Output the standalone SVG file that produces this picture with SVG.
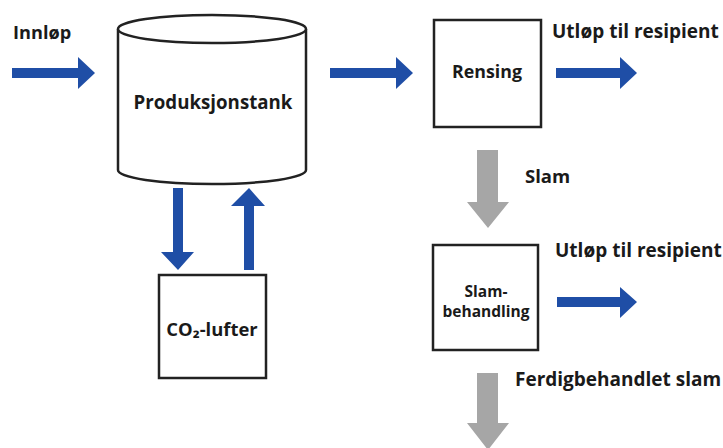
<svg xmlns="http://www.w3.org/2000/svg" width="723" height="448" viewBox="0 0 723 448">
<style>
.box{fill:#fff;stroke:#222;stroke-width:2.5}
.t{font-family:"Open Sans","Liberation Sans",sans-serif;font-weight:bold;fill:#1a1a1a}
.blue{fill:#1f4ea6}
.gray{fill:#a6a6a6}
</style>
<rect width="723" height="448" fill="#fff"/>
<g id="connectors">
<polygon class="blue" points="12,68 78,68 78,57 95,73 78,89 78,78 12,78"/>
<polygon class="blue" points="330,68 396,68 396,57 413,73 396,89 396,78 330,78"/>
<polygon class="blue" points="556,68 620,68 620,57 637,73 620,89 620,78 556,78"/>
<polygon class="blue" points="557,297 620,297 620,287 637,302 620,318 620,307 557,307"/>
<polygon class="blue" points="173,188 183,188 183,252 194,252 178,270 161,252 173,252"/>
<polygon class="blue" points="244,270 254,270 254,206 265,206 249,188 231,206 244,206"/>
<polygon class="gray" points="477,150 498,150 498,202 509,202 488,228 467,202 477,202"/>
<polygon class="gray" points="477,373 498,373 498,423 509,423 488,450 467,423 477,423"/>
</g>
<g id="produksjonstank">
<path class="box" d="M118,29 L118,170 A94,14 0 0 0 306,170 L306,29"/>
<ellipse class="box" cx="212" cy="29" rx="94" ry="14"/>
<text class="t" x="213" y="109" font-size="18.7" text-anchor="middle">Produksjonstank</text>
</g>
<g id="innlop"><text class="t" x="13" y="39" font-size="18.2">Innløp</text></g>
<g id="rensing">
<rect class="box" x="434" y="20" width="107" height="107"/>
<text class="t" x="487" y="78" font-size="17.8" text-anchor="middle">Rensing</text>
</g>
<g id="utlop1"><text class="t" x="552" y="38" font-size="19">Utløp til resipient</text></g>
<g id="slam"><text class="t" x="525" y="183" font-size="18.5">Slam</text></g>
<g id="slambehandling">
<rect class="box" x="433" y="245" width="105" height="105"/>
<text class="t" x="486" y="297" font-size="15.5" text-anchor="middle">Slam-</text>
<text class="t" x="486" y="317" font-size="15.5" text-anchor="middle">behandling</text>
</g>
<g id="utlop2"><text class="t" x="555" y="257" font-size="19">Utløp til resipient</text></g>
<g id="co2lufter">
<rect class="box" x="159" y="275" width="107" height="103"/>
<text class="t" x="212" y="336" font-size="18.4" text-anchor="middle">CO₂-lufter</text>
</g>
<g id="ferdig"><text class="t" x="515" y="386" font-size="19">Ferdigbehandlet slam</text></g>
</svg>
